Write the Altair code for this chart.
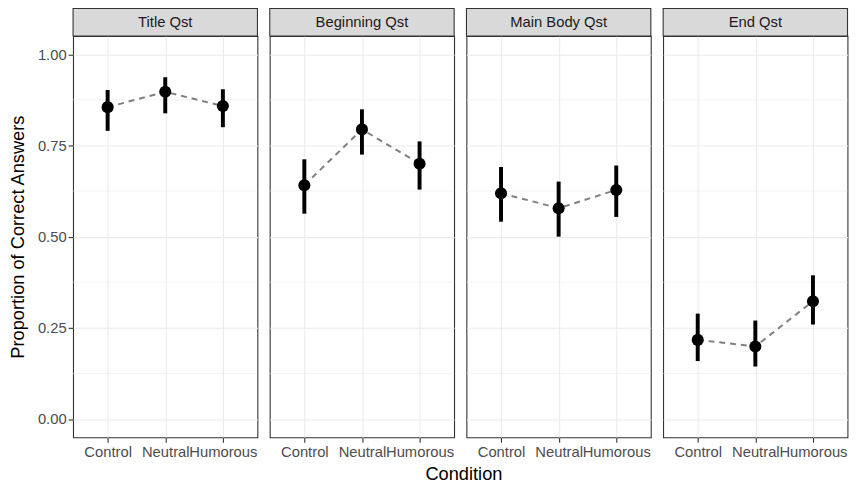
import altair as alt
import pandas as pd

panels = ["Title Qst", "Beginning Qst", "Main Body Qst", "End Qst"]
conditions = ["Control", "Neutral", "Humorous"]

mean_title = [0.855, 0.897, 0.858]
low_title = [0.790, 0.838, 0.800]
high_title = [0.902, 0.937, 0.904]

mean_begin = [0.641, 0.794, 0.700]
low_begin = [0.563, 0.725, 0.629]
high_begin = [0.712, 0.849, 0.761]

mean_main = [0.619, 0.578, 0.628]
low_main = [0.541, 0.500, 0.554]
high_main = [0.691, 0.651, 0.695]

mean_end = [0.217, 0.199, 0.323]
low_end = [0.159, 0.144, 0.259]
high_end = [0.289, 0.270, 0.394]

y_breaks = [0.0, 0.25, 0.5, 0.75, 1.0]
y_minor = [0.125, 0.375, 0.625, 0.875]

series = {
    "Title Qst": (mean_title, low_title, high_title),
    "Beginning Qst": (mean_begin, low_begin, high_begin),
    "Main Body Qst": (mean_main, low_main, high_main),
    "End Qst": (mean_end, low_end, high_end),
}

rows = []
for p in panels:
    m, lo, hi = series[p]
    for c, a, b, h in zip(conditions, m, lo, hi):
        rows.append({"panel": p, "condition": c, "mean": a, "low": b, "high": h})
df = pd.DataFrame(rows)
minor_df = pd.DataFrame({"v": y_minor})

W = 187
H = 407
STRIP = 28
FONT = "Liberation Sans"
LABEL = 15
TITLE = 18.5

yscale = alt.Scale(domain=[-0.05, 1.05], nice=False, zero=False)
xscale = alt.Scale(type="point", padding=0.6)


def panel(name, first):
    base = alt.Chart(df).transform_filter(alt.datum.panel == name)
    xaxis = alt.Axis(title=None, labelAngle=0, ticks=True, tickSize=5, tickColor="#333333",
                     tickWidth=1.1, domain=False, grid=True, gridColor="#EBEBEB", gridWidth=1.1,
                     labelColor="#4D4D4D", labelFontSize=LABEL, labelPadding=3, labelFont=FONT,
                     labelOverlap=False)
    if first:
        yaxis = alt.Axis(title="Proportion of Correct Answers", values=y_breaks, format=".2f",
                         tickSize=5, tickColor="#333333", tickWidth=1.1, domain=False,
                         grid=True, gridColor="#EBEBEB", gridWidth=1.1,
                         labelColor="#4D4D4D", labelFontSize=LABEL, labelPadding=2, labelFont=FONT,
                         titleFont=FONT, titleFontSize=TITLE, titleFontWeight="normal",
                         titleColor="black", titlePadding=10)
        ytitle = "Proportion of Correct Answers"
    else:
        yaxis = alt.Axis(title=None, values=y_breaks, labels=False, ticks=False, domain=False,
                         grid=True, gridColor="#EBEBEB", gridWidth=1.1)
        ytitle = None
    x = alt.X("condition:N", sort=conditions, scale=xscale, axis=xaxis)

    minor = alt.Chart(minor_df).mark_rule(color="#EBEBEB", strokeWidth=0.6).encode(
        y=alt.Y("v:Q", scale=yscale, axis=yaxis, title=ytitle)
    )
    line = base.mark_line(color="#7F7F7F", strokeWidth=2, strokeDash=[6, 5]).encode(
        x=x, y=alt.Y("mean:Q", scale=yscale, axis=yaxis, title=ytitle)
    )
    bars = base.mark_rule(color="black", strokeWidth=4).encode(
        x=x, y=alt.Y("low:Q", scale=yscale, axis=yaxis, title=ytitle), y2="high:Q"
    )
    pts = base.mark_circle(color="black", opacity=1, size=150).encode(
        x=x, y=alt.Y("mean:Q", scale=yscale, axis=yaxis, title=ytitle)
    )
    strip_df = pd.DataFrame({"panel": [name]})
    strip = alt.Chart(strip_df).mark_rect(fill="#D9D9D9", stroke="#333333", strokeWidth=1.1).encode(
        x=alt.value(0), x2=alt.value(W), y=alt.value(-STRIP), y2=alt.value(0)
    )
    strip_text = alt.Chart(strip_df).mark_text(
        fontSize=LABEL, color="#1A1A1A", font=FONT, baseline="middle", align="center"
    ).encode(x=alt.value(W / 2), y=alt.value(-STRIP / 2), text="panel:N")
    return alt.layer(minor, line, bars, pts, strip, strip_text).properties(width=W, height=H)


chart = alt.hconcat(*[panel(p, i == 0) for i, p in enumerate(panels)], spacing=8.5).properties(
    title=alt.TitleParams(text="Condition", orient="bottom", anchor="middle", fontSize=TITLE,
                          fontWeight="normal", color="black", font=FONT, offset=5, dx=36),
    padding={"left": 0, "top": -5, "right": 0, "bottom": -3},
).configure(background="white").configure_view(stroke="#333333", strokeWidth=1.1)

chart.save("out.html", embed_options={"renderer": "svg", "actions": False})
